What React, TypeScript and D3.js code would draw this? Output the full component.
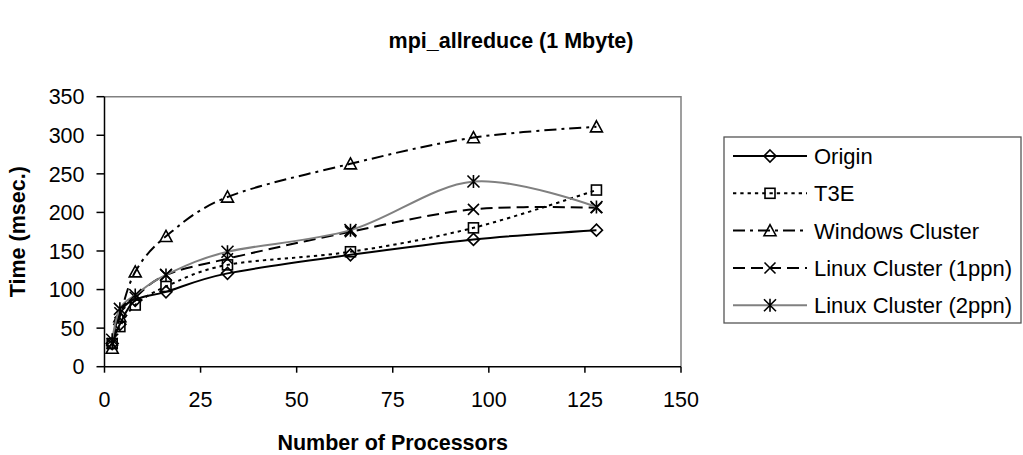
import React from "react";
import * as d3 from "d3";

const processors = [2, 4, 8, 16, 32, 64, 96, 128];
const originValues = [30, 55, 86, 97, 121, 145, 165, 177];
const t3eValues = [30, 52, 80, 104, 132, 149, 180, 229];
const windowsValues = [24, 65, 123, 169, 220, 263, 297, 311];
const linux1Values = [30, 70, 90, 119, 140, 175, 204, 206];
const linux2Values = [35, 75, 93, 119, 149, 177, 240, 207];
const xTicks = [0, 25, 50, 75, 100, 125, 150];
const yTicks = [0, 50, 100, 150, 200, 250, 300, 350];

const seriesNames = ["Origin", "T3E", "Windows Cluster", "Linux Cluster (1ppn)", "Linux Cluster (2ppn)"];
const seriesValues = [originValues, t3eValues, windowsValues, linux1Values, linux2Values];
const seriesStroke = ["#000", "#000", "#000", "#000", "#808080"];
const seriesDash = ["none", "3.3,4", "12,5,3,5", "12,6", "none"];
const seriesMarker = ["diamond", "square", "triangle", "x", "asterisk"];

const FONT = "'Liberation Sans', Arial, sans-serif";

function Marker({ type, x, y }: { type: string; x: number; y: number }) {
  const s = "#000";
  const sw = 1.6;
  if (type === "diamond") {
    const r = 6;
    return <path d={`M${x},${y - r}L${x + r},${y}L${x},${y + r}L${x - r},${y}Z`} fill="none" stroke={s} strokeWidth={sw} />;
  }
  if (type === "square") {
    const r = 5;
    return <rect x={x - r} y={y - r} width={2 * r} height={2 * r} fill="none" stroke={s} strokeWidth={sw} />;
  }
  if (type === "triangle") {
    const r = 6;
    return <path d={`M${x},${y - r}L${x + r},${y + r * 0.85}L${x - r},${y + r * 0.85}Z`} fill="none" stroke={s} strokeWidth={sw} />;
  }
  if (type === "x") {
    const r = 5.5;
    return <path d={`M${x - r},${y - r}L${x + r},${y + r}M${x - r},${y + r}L${x + r},${y - r}`} stroke={s} strokeWidth={sw} />;
  }
  const r = 6;
  return (
    <path
      d={`M${x - r},${y - r}L${x + r},${y + r}M${x - r},${y + r}L${x + r},${y - r}M${x},${y - r - 0.5}L${x},${y + r + 0.5}`}
      stroke={s}
      strokeWidth={sw}
    />
  );
}

export default function App() {
  const left = 104.5, right = 681, top = 96.7, bottom = 366.7;
  const x = d3.scaleLinear().domain([0, 150]).range([left, right]);
  const y = d3.scaleLinear().domain([0, 350]).range([bottom, top]);
  const line = d3
    .line<number>()
    .x((_, i) => x(processors[i]))
    .y((v) => y(v))
    .curve(d3.curveCardinal.tension(0));

  const legX = 724, legY = 137, legW = 297, legH = 186;
  const rowY = [156, 193.3, 230.6, 268, 305.3];

  return (
    <svg width={1023} height={455} style={{ position: "absolute", left: 0, top: 0, background: "#fff" }} fontFamily={FONT}>
      <rect x={0} y={0} width={1023} height={455} fill="#fff" />
      <text x={511} y={47.5} textAnchor="middle" fontWeight="bold" fontSize={21.5}>
        mpi_allreduce (1 Mbyte)
      </text>

      {/* plot frame */}
      <path d={`M${left},${top}H${right}V${bottom}`} fill="none" stroke="#808080" strokeWidth={1.5} />
      <line x1={left} y1={top} x2={left} y2={bottom} stroke="#000" strokeWidth={1.5} />
      <line x1={left} y1={bottom} x2={right} y2={bottom} stroke="#000" strokeWidth={1.5} />

      {yTicks.map((t) => (
        <g key={"y" + t}>
          <line x1={left - 8} x2={left} y1={y(t)} y2={y(t)} stroke="#000" strokeWidth={1.5} />
          <text x={left - 20} y={y(t)} dy="0.36em" textAnchor="end" fontSize={21.5}>
            {t}
          </text>
        </g>
      ))}
      {xTicks.map((t) => (
        <g key={"x" + t}>
          <line x1={x(t)} x2={x(t)} y1={bottom} y2={bottom + 6} stroke="#000" strokeWidth={1.5} />
          <text x={x(t)} y={bottom + 40.5} textAnchor="middle" fontSize={21.5}>
            {t}
          </text>
        </g>
      ))}

      <text x={(left + right) / 2} y={450} textAnchor="middle" fontWeight="bold" fontSize={21.5}>
        Number of Processors
      </text>
      <text
        transform={`translate(25,${(top + bottom) / 2}) rotate(-90)`}
        textAnchor="middle"
        fontWeight="bold"
        fontSize={21.5}
      >
        Time (msec.)
      </text>

      {seriesValues.map((vals, si) => (
        <g key={"s" + si}>
          <path
            d={line(vals) || ""}
            fill="none"
            stroke={seriesStroke[si]}
            strokeWidth={2}
            strokeDasharray={seriesDash[si]}
          />
          {vals.map((v, i) => (
            <Marker key={i} type={seriesMarker[si]} x={x(processors[i])} y={y(v)} />
          ))}
        </g>
      ))}

      {/* legend */}
      <rect x={legX} y={legY} width={legW} height={legH} fill="#fff" stroke="#555" strokeWidth={1.3} />
      {seriesNames.map((n, i) => (
        <g key={"l" + i}>
          <line
            x1={733}
            x2={807}
            y1={rowY[i]}
            y2={rowY[i]}
            stroke={seriesStroke[i]}
            strokeWidth={2}
            strokeDasharray={seriesDash[i]}
          />
          <Marker type={seriesMarker[i]} x={770} y={rowY[i]} />
          <text x={814} y={rowY[i]} dy="0.36em" fontSize={22}>
            {n}
          </text>
        </g>
      ))}
    </svg>
  );
}
